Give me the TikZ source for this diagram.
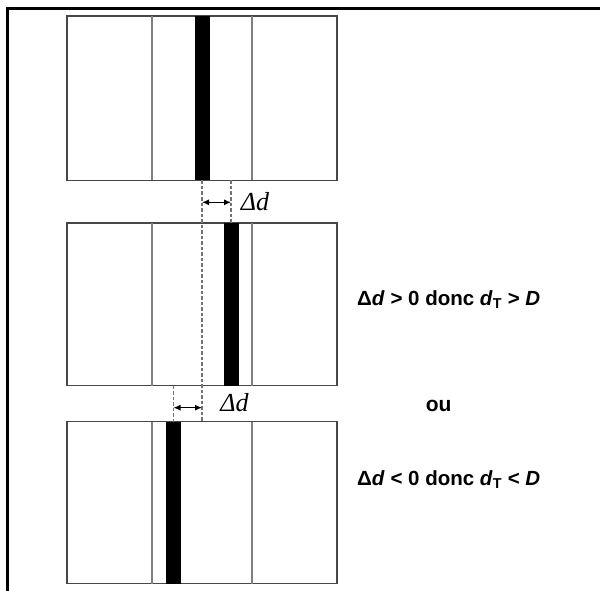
\documentclass[tikz,border=0pt]{standalone}
\usepackage{fontspec}
\setmainfont{Liberation Sans}
\newfontfamily\tnr{Liberation Serif}
\usetikzlibrary{arrows.meta}
\tikzset{
  box/.style={draw=black!72, line width=1.2pt, minimum width=270pt, inner sep=0pt, outer sep=0pt, fill=white},
  bar/.style={fill=black, draw=none, minimum width=15pt, inner sep=0pt, outer sep=0pt},
  innerline/.style={draw=black!50, line width=1.2pt},
  guide/.style={draw=black!55, line width=1.1pt, dash pattern=on 3.5pt off 2pt},
  dimarrow/.style={line width=1.1pt, {Latex[length=7pt,width=6pt]}-{Latex[length=7pt,width=6pt]}},
  dlabel/.style={font=\tnr\itshape\fontsize{26}{26}\selectfont, inner sep=0pt},
  cond/.style={font=\bfseries\fontsize{20.5}{24}\selectfont, inner sep=0pt, anchor=base west},
  frame/.style={line width=3pt}
}
\begin{document}
\begin{tikzpicture}[x=1pt,y=-1pt]
\useasboundingbox (0,0) rectangle (600,591);
% frame
\draw[frame] (7.5,591) -- (7.5,8.5) -- (600,8.5);
% boxes
\node[box, minimum height=164.5pt] (b1) at (202,98.25) {};
\node[box, minimum height=162.5pt] (b2) at (202,304.25) {};
\node[box, minimum height=162pt] (b3) at (202,502.7) {};
% inner lines
\foreach \b in {b1,b2,b3}{
  \draw[innerline] ([xshift=85pt]\b.north west) -- ([xshift=85pt]\b.south west);
  \draw[innerline] ([xshift=185pt]\b.north west) -- ([xshift=185pt]\b.south west);
}
% bars
\node[bar, minimum height=164.5pt] (k1) at (202,98.25) {};
\node[bar, minimum height=162.5pt] (k2) at (231,304.25) {};
\node[bar, minimum height=162pt] (k3) at (173.5,502.7) {};
% guide lines
\draw[guide] (k1.south) -- (k1.south |- k3.north);
\draw[guide] (k1.south -| k2.north) -- (k2.north);
\draw[guide] (k3.north |- k2.south) -- (k3.north);
% dimension arrows
\coordinate (a1l) at (202,202.3);
\coordinate (a1r) at (231,202.3);
\coordinate (a2l) at (173.5,407.7);
\coordinate (a2r) at (202,407.7);
\draw[dimarrow] (a1l) -- (a1r);
\draw[dimarrow] (a2l) -- (a2r);
\node[dlabel] (l1) at (255,202) {Δd};
\node[dlabel] (l2) at (234.5,403) {Δd};
% conditions
\node[cond] (t1) at (357,305.7) {Δ\textit{d} > 0 donc \textit{d}\textsubscript{T} > \textit{D}};
\node[cond, font=\bfseries\fontsize{21}{24}\selectfont] (ou) at (425.7,411) {ou};
\node[cond] (t2) at (357,485.7) {Δ\textit{d} < 0 donc \textit{d}\textsubscript{T} < \textit{D}};
\end{tikzpicture}
\end{document}
